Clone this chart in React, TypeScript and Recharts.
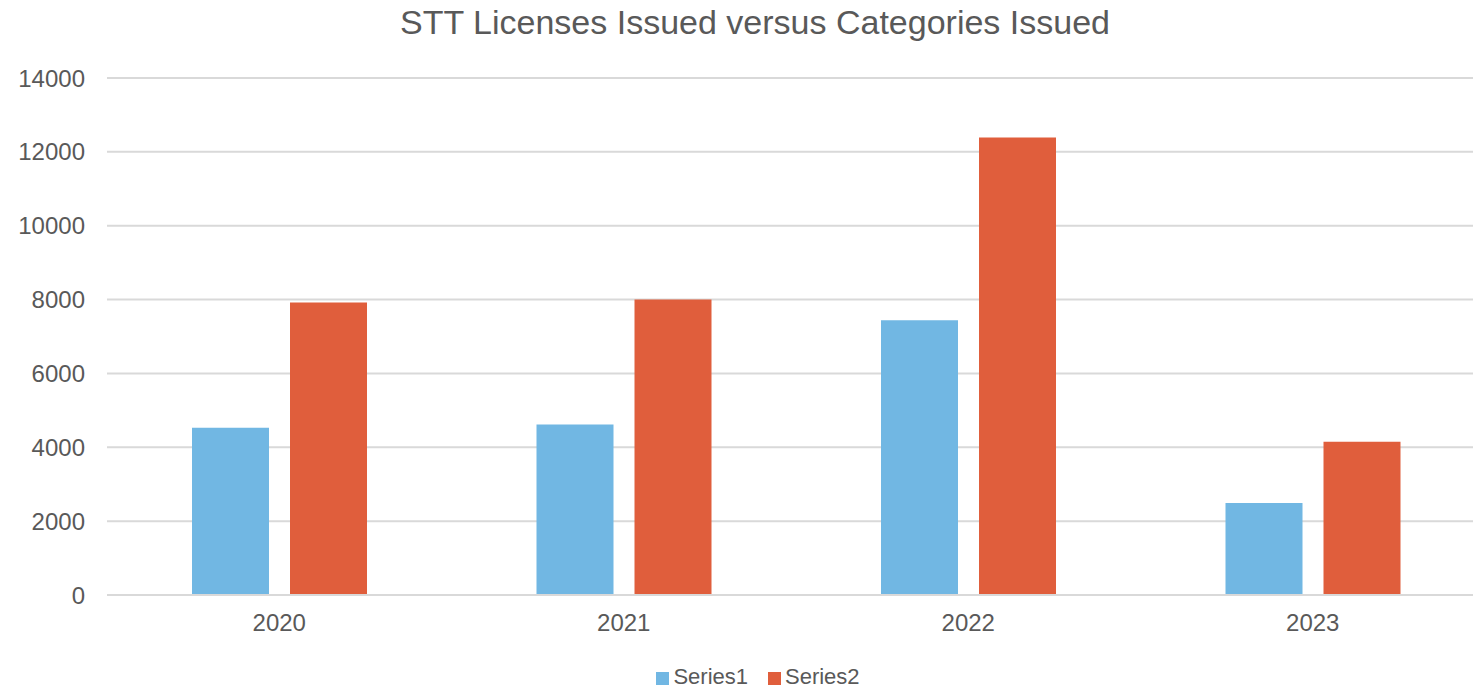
import { BarChart, Bar, XAxis, YAxis, CartesianGrid, Legend } from "recharts";

const years = ["2020", "2021", "2022", "2023"];
const series1 = [4530, 4620, 7440, 2490];
const series2 = [7920, 8000, 12390, 4150];
const yTicks = [0, 2000, 4000, 6000, 8000, 10000, 12000, 14000];

const rows = years.map((y, i) => ({ year: y, Series1: series1[i], Series2: series2[i] }));

const txt = "#595959";
const font = "'Liberation Sans', Arial, sans-serif";

export default function App(){
  return (
    <div style={{position:"fixed",left:0,top:0,width:1473,height:689,overflow:"hidden",background:"#fff",fontFamily:font}}>
      <div style={{position:"absolute",left:0,width:1510,top:3,textAlign:"center",fontSize:34,color:txt,fontFamily:font}}>
        STT Licenses Issued versus Categories Issued
      </div>
      <BarChart width={1485} height={689} data={rows} margin={{top:78,right:0,bottom:0,left:0}}
        barCategoryGap={85} barGap={21}>
        <CartesianGrid vertical={false} stroke="#d9d9d9" strokeWidth={2} />
        <XAxis dataKey="year" height={69} tickLine={false} tickSize={0} tickMargin={19}
          axisLine={{stroke:"#d9d9d9",strokeWidth:2}} tick={{fill:txt,fontSize:24,fontFamily:font}} />
        <YAxis width={107} ticks={yTicks} domain={[0,14000]} interval={0} axisLine={false} tickLine={false}
          tickSize={0} tickMargin={22} tick={{fill:txt,fontSize:24,fontFamily:font}} />
        <Legend verticalAlign="bottom" height={25} iconType="square" iconSize={13}
          wrapperStyle={{left:0,width:1536,fontSize:22,fontFamily:font}}
          formatter={(v)=> <span style={{color:txt,marginRight:10}}>{v}</span>} />
        <Bar dataKey="Series1" fill="#71B7E3" isAnimationActive={false} />
        <Bar dataKey="Series2" fill="#E05E3C" isAnimationActive={false} />
      </BarChart>
    </div>
  );
}
